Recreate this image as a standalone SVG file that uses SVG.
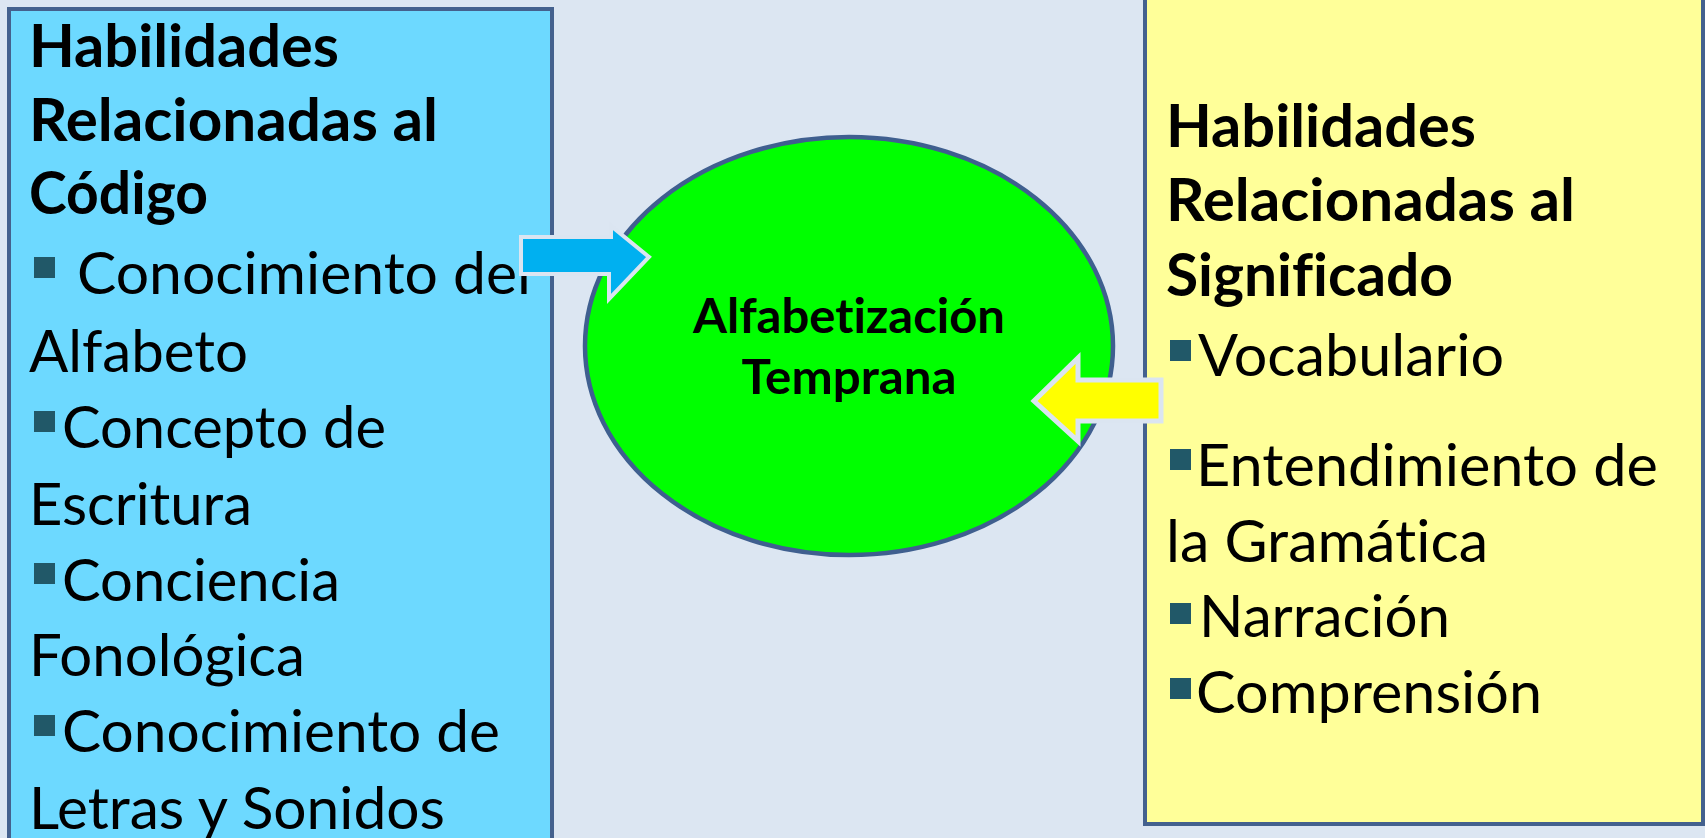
<svg xmlns="http://www.w3.org/2000/svg" width="1705" height="838" viewBox="0 0 1705 838">
<defs>
<style>
.t{font-family:Lato,"Open Sans","Liberation Sans",sans-serif;font-size:58px;fill:#000;font-variant-ligatures:none}
.b{font-weight:bold;font-size:59px}
.c{font-family:Lato,"Open Sans","Liberation Sans",sans-serif;font-weight:bold;font-size:47px;fill:#000;text-anchor:middle;font-variant-ligatures:none}
.box{stroke:#44618e;stroke-width:4}
.bul{fill:#215868}
.arr{stroke:#dbe5f1;stroke-linejoin:miter}
</style>
</defs>
<rect x="0" y="0" width="1705" height="838" fill="#dce6f2"/>
<g id="node-codigo">
<rect class="box" x="9" y="9" width="543" height="850" fill="#6dd9ff"/>
<text class="t b" x="29" y="67" textLength="310" lengthAdjust="spacingAndGlyphs">Habilidades</text>
<text class="t b" x="29" y="141" textLength="409" lengthAdjust="spacingAndGlyphs">Relacionadas al</text>
<text class="t b" x="29" y="214" textLength="179" lengthAdjust="spacingAndGlyphs">Código</text>
<rect class="bul" x="34" y="257" width="21" height="21"/>
<text class="t" x="77" y="294" textLength="454" lengthAdjust="spacingAndGlyphs">Conocimiento del</text>
<text class="t" x="29" y="372" textLength="219" lengthAdjust="spacingAndGlyphs">Alfabeto</text>
<rect class="bul" x="34" y="411" width="21" height="21"/>
<text class="t" x="62" y="448" textLength="324" lengthAdjust="spacingAndGlyphs">Concepto de</text>
<text class="t" x="29" y="525" textLength="223" lengthAdjust="spacingAndGlyphs">Escritura</text>
<rect class="bul" x="34" y="563" width="21" height="21"/>
<text class="t" x="62" y="601" textLength="278" lengthAdjust="spacingAndGlyphs">Conciencia</text>
<text class="t" x="29" y="676" textLength="276" lengthAdjust="spacingAndGlyphs">Fonológica</text>
<rect class="bul" x="34" y="715" width="21" height="21"/>
<text class="t" x="62" y="752" textLength="438" lengthAdjust="spacingAndGlyphs">Conocimiento de</text>
<text class="t" x="29" y="829" textLength="416" lengthAdjust="spacingAndGlyphs">Letras y Sonidos</text>
</g>
<g id="node-significado">
<rect class="box" x="1145" y="-20" width="558" height="844" fill="#ffff99"/>
<text class="t b" x="1166" y="147" textLength="310" lengthAdjust="spacingAndGlyphs">Habilidades</text>
<text class="t b" x="1166" y="221" textLength="409" lengthAdjust="spacingAndGlyphs">Relacionadas al</text>
<text class="t b" x="1166" y="296" textLength="287" lengthAdjust="spacingAndGlyphs">Significado</text>
<rect class="bul" x="1170" y="340" width="21" height="21"/>
<text class="t" x="1198" y="376" textLength="306" lengthAdjust="spacingAndGlyphs">Vocabulario</text>
<rect class="bul" x="1170" y="449" width="21" height="21"/>
<text class="t" x="1196" y="486" textLength="462" lengthAdjust="spacingAndGlyphs">Entendimiento de</text>
<text class="t" x="1166" y="562" textLength="322" lengthAdjust="spacingAndGlyphs">la Gramática</text>
<rect class="bul" x="1170" y="603" width="21" height="21"/>
<text class="t" x="1199" y="637" textLength="251" lengthAdjust="spacingAndGlyphs">Narración</text>
<rect class="bul" x="1170" y="678" width="21" height="21"/>
<text class="t" x="1196" y="713" textLength="346" lengthAdjust="spacingAndGlyphs">Comprensión</text>
</g>
<g id="node-alfabetizacion">
<ellipse cx="849" cy="346" rx="264" ry="209" fill="#00ff00" stroke="#3f5f8f" stroke-width="4.5"/>
<text class="c" x="849" y="333" textLength="312" lengthAdjust="spacingAndGlyphs">Alfabetización</text>
<text class="c" x="849" y="394" textLength="215" lengthAdjust="spacingAndGlyphs">Temprana</text>
</g>
<g id="connectors">
<polygon class="arr" points="521,237 611,237 611,226 649,257 609,299 609,274 521,274" fill="#00b0f0" stroke-width="4"/>
<polygon class="arr" points="1161,380 1078,380 1078,358 1034,401 1078,441 1078,421 1161,421" fill="#ffff00" stroke-width="5"/>
</g>
</svg>
